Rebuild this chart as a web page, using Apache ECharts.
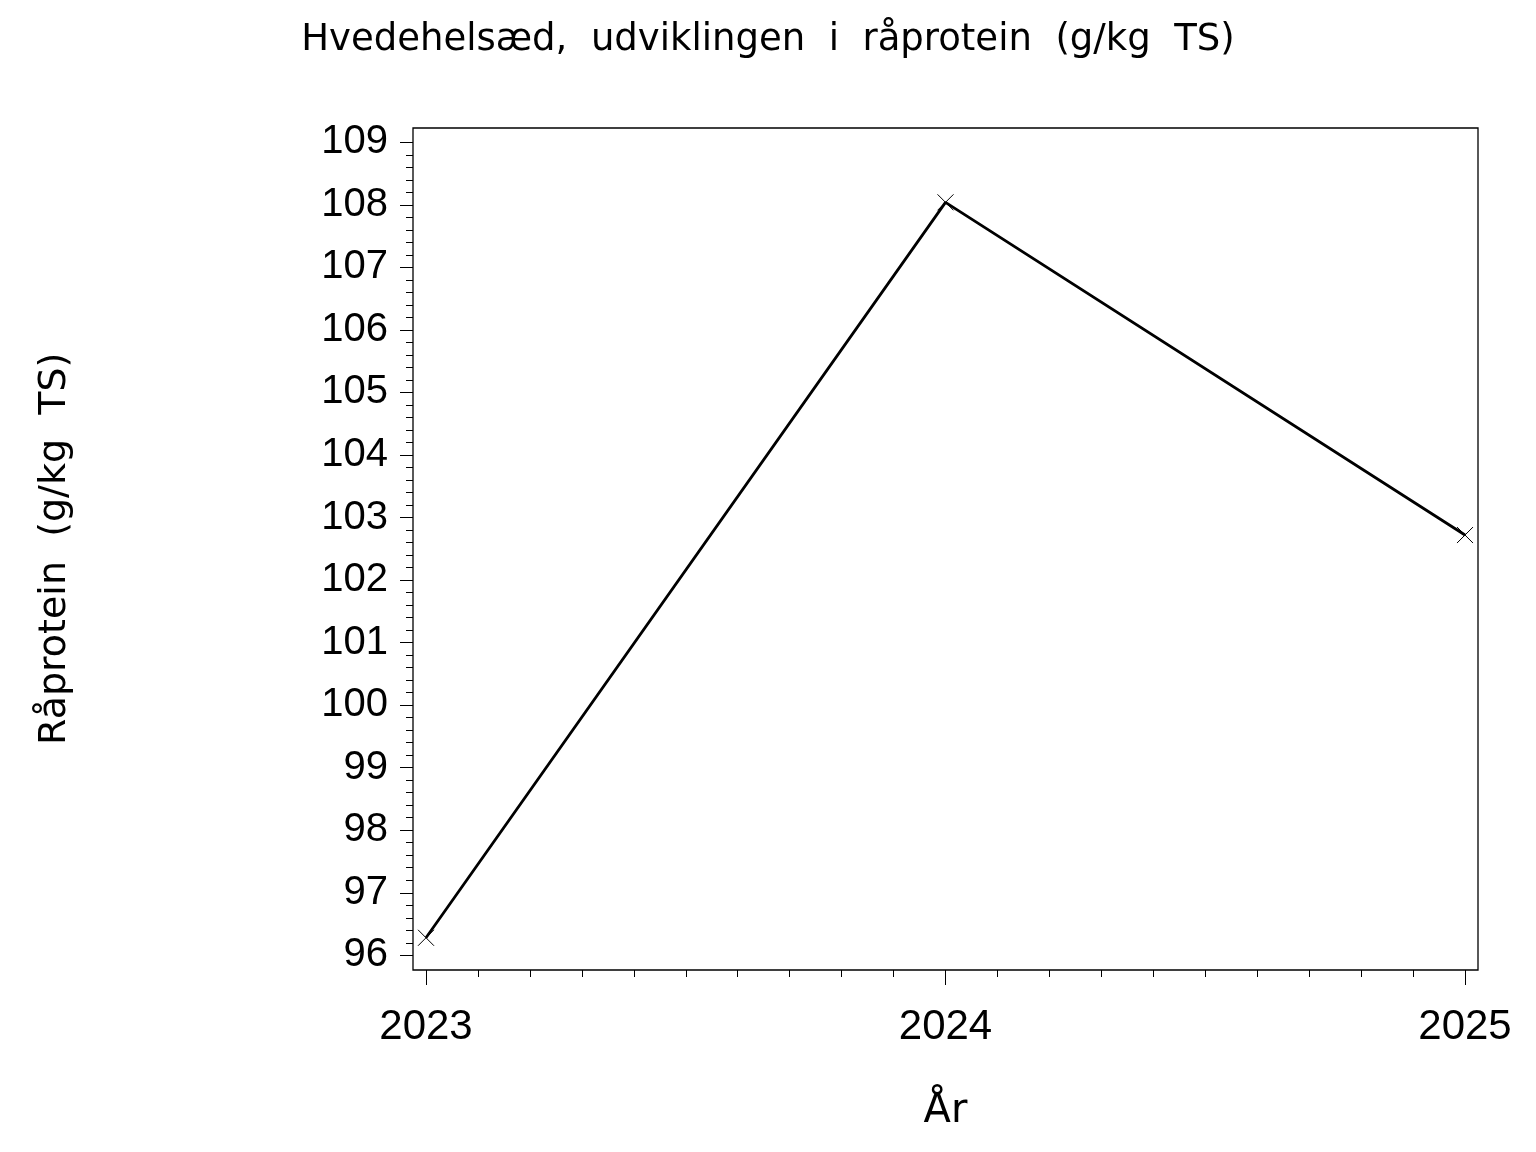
<!DOCTYPE html>
<html>
<head>
<meta charset="utf-8">
<script src="https://cdn.jsdelivr.net/npm/echarts@6/dist/echarts.min.js"></script>
<style>
html,body{margin:0;padding:0;background:#fff;}
#c{width:1536px;height:1152px;}
</style>
</head>
<body>
<div id="c"></div>
<script>
const titleText = 'Hvedehelsæd,  udviklingen  i  råprotein  (g/kg  TS)';
const xName = 'År';
const yName = 'Råprotein  (g/kg  TS)';
const years = [2023, 2024, 2025];
const protein = [96.28, 108.04, 102.72];
const yMin = 96, yMax = 109;

const chart = echarts.init(document.getElementById('c'), null, {renderer: 'canvas'});
const labelFont = 'Liberation Sans, Arial, sans-serif';
const nameFont = 'DejaVu Sans, sans-serif';
chart.setOption({
  animation: false,
  backgroundColor: '#fff',
  title: {
    text: titleText,
    left: 'center',
    top: 17,
    textStyle: {fontFamily: nameFont, fontSize: 37, fontWeight: 'normal', color: '#000'}
  },
  graphic: [{
    type: 'rect',
    shape: {x: 413, y: 128, width: 1065, height: 842},
    style: {fill: 'none', stroke: '#000', lineWidth: 1.3},
    z: 10
  }],
  grid: {left: 426, right: 71, top: 142.3, bottom: 196.7},
  xAxis: {
    type: 'value',
    min: 2023, max: 2025, interval: 1,
    offset: 14.7,
    name: xName,
    nameLocation: 'middle',
    nameGap: 122,
    nameTextStyle: {fontFamily: nameFont, fontSize: 40, color: '#000'},
    axisLine: {show: false},
    axisTick: {show: true, length: 15, lineStyle: {color: '#000', width: 1}},
    minorTick: {show: true, splitNumber: 10, length: 7, lineStyle: {color: '#000', width: 1}},
    splitLine: {show: false},
    minorSplitLine: {show: false},
    axisLabel: {margin: 36, fontFamily: labelFont, fontSize: 42, color: '#000', formatter: v => String(v)}
  },
  yAxis: {
    type: 'value',
    min: yMin, max: yMax, interval: 1,
    offset: 13,
    name: yName,
    nameLocation: 'middle',
    nameGap: 339,
    nameTextStyle: {fontFamily: nameFont, fontSize: 38, color: '#000'},
    axisLine: {show: false},
    axisTick: {show: true, length: 13, lineStyle: {color: '#000', width: 1}},
    minorTick: {show: true, splitNumber: 5, length: 7, lineStyle: {color: '#000', width: 1}},
    splitLine: {show: false},
    minorSplitLine: {show: false},
    axisLabel: {margin: 25, fontFamily: labelFont, fontSize: 40, color: '#000'}
  },
  series: [{
    type: 'line',
    data: years.map((y, i) => [y, protein[i]]),
    symbol: 'path://M0 0L10 10M10 0L0 10',
    symbolSize: 16,
    showSymbol: true,
    lineStyle: {color: '#000', width: 2.8},
    itemStyle: {color: 'none', borderColor: '#000', borderWidth: 1},
    z: 5
  }]
});
</script>
</body>
</html>
